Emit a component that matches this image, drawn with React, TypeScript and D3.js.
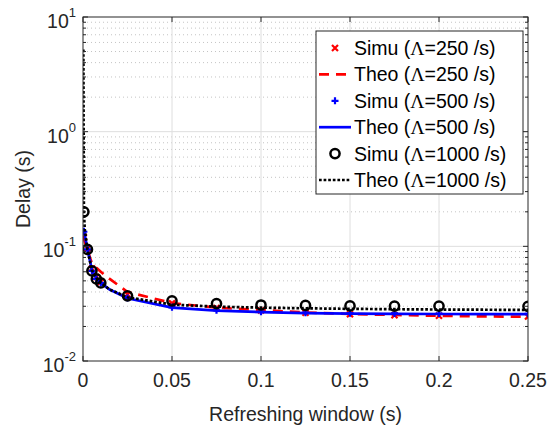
import React from "react";
import * as d3 from "d3";

const xSimu = [0.0005, 0.0025, 0.005, 0.0075, 0.01, 0.025, 0.05, 0.075, 0.1, 0.125, 0.15, 0.175, 0.2, 0.25];
const simu250 = [0.12, 0.096, 0.064, 0.054, 0.049, 0.038, 0.0318, 0.029, 0.0276, 0.0264, 0.0256, 0.0251, 0.0248, 0.0244];
const simu500 = [0.134, 0.094, 0.061, 0.052, 0.048, 0.0355, 0.0294, 0.0277, 0.0269, 0.0264, 0.0261, 0.026, 0.0259, 0.0258];
const simu1000 = [0.2, 0.094, 0.061, 0.052, 0.048, 0.037, 0.0334, 0.0316, 0.0308, 0.0305, 0.0302, 0.0301, 0.0301, 0.03];

const xTheo = [0.0002, 0.0005, 0.001, 0.0025, 0.005, 0.0075, 0.01, 0.015, 0.025, 0.05, 0.075, 0.1, 0.125, 0.15, 0.175, 0.2, 0.225, 0.25];
const theo250 = [0.122, 0.118, 0.11, 0.093, 0.071, 0.065, 0.06, 0.052, 0.04, 0.032, 0.0292, 0.0278, 0.0265, 0.0257, 0.0252, 0.0248, 0.0245, 0.0243];
const theo500 = [0.145, 0.14, 0.125, 0.095, 0.062, 0.053, 0.048, 0.042, 0.0352, 0.0292, 0.0275, 0.0267, 0.0262, 0.0259, 0.0258, 0.0257, 0.0256, 0.0256];
const theo1000 = [5.2, 0.2, 0.14, 0.094, 0.062, 0.053, 0.048, 0.042, 0.036, 0.031, 0.0298, 0.0292, 0.0288, 0.0285, 0.0283, 0.0281, 0.028, 0.0279];

const xTicks = [0, 0.05, 0.1, 0.15, 0.2, 0.25];
const xTickLabels = ["0", "0.05", "0.1", "0.15", "0.2", "0.25"];
const yDecades = [0.01, 0.1, 1, 10];
const yExponents = ["-2", "-1", "0", "1"];
const legendLabels = ["250", "250", "500", "500", "1000", "1000"];

const L = 83, R = 528, T = 17, B = 361;
const FONT = "'Liberation Sans', Arial, Helvetica, sans-serif";
const AX = "#262626";

export default function App() {
  const x = d3.scaleLinear().domain([0, 0.25]).range([L, R]);
  const y = d3.scaleLog().domain([0.01, 10]).range([B, T]);
  const line = d3.line<[number, number]>().x((d) => x(d[0])).y((d) => y(d[1]));
  const pts = (xs: number[], ys: number[]) => xs.map((v, i) => [v, ys[i]] as [number, number]);

  const minors: number[] = [];
  for (let e = -2; e < 1; e++) {
    for (let m = 2; m <= 9; m++) minors.push(m * Math.pow(10, e));
  }

  const xMark = (cx: number, cy: number, k: string) => (
    <path key={k} d={`M${cx - 3},${cy - 3}L${cx + 3},${cy + 3}M${cx - 3},${cy + 3}L${cx + 3},${cy - 3}`} stroke="#ff0000" strokeWidth={2.2} fill="none" />
  );
  const plusMark = (cx: number, cy: number, k: string) => (
    <path key={k} d={`M${cx - 3.5},${cy}L${cx + 3.5},${cy}M${cx},${cy - 3.5}L${cx},${cy + 3.5}`} stroke="#0000ff" strokeWidth={2.2} fill="none" />
  );
  const circMark = (cx: number, cy: number, k: string) => (
    <circle key={k} cx={cx} cy={cy} r={4.6} stroke="#000" strokeWidth={2.5} fill="none" />
  );

  const legendRow = (i: number) => 48 + 26.4 * i;

  return (
    <svg width={550} height={427} style={{ position: "absolute", left: 0, top: 0, background: "#fff" }} fontFamily={FONT}>
      <rect x={0} y={0} width={550} height={427} fill="#fff" />
      <defs>
        <clipPath id="plotclip">
          <rect x={L} y={T} width={R - L} height={B - T} />
        </clipPath>
      </defs>
      {/* minor grid */}
      {minors.map((v, i) => (
        <line key={"mg" + i} x1={L} x2={R} y1={y(v)} y2={y(v)} stroke="#c4c4c4" strokeWidth={1} strokeDasharray="1,3" />
      ))}
      {/* major grid */}
      {xTicks.slice(1, -1).map((v, i) => (
        <line key={"xg" + i} x1={x(v)} x2={x(v)} y1={T} y2={B} stroke="#dedede" strokeWidth={1} />
      ))}
      {yDecades.slice(1, -1).map((v, i) => (
        <line key={"yg" + i} x1={L} x2={R} y1={y(v)} y2={y(v)} stroke="#dedede" strokeWidth={1} />
      ))}

      {/* data */}
      <g clipPath="url(#plotclip)">
        {xSimu.map((v, i) => xMark(x(v), y(simu250[i]), "s250" + i))}
        <path d={line(pts(xTheo, theo250)) || ""} fill="none" stroke="#ff0000" strokeWidth={2.7} strokeDasharray="10,7" />
        {xSimu.map((v, i) => plusMark(x(v), y(simu500[i]), "s500" + i))}
        <path d={line(pts(xTheo, theo500)) || ""} fill="none" stroke="#0000ff" strokeWidth={2.7} />
        {xSimu.map((v, i) => circMark(x(v), y(simu1000[i]), "s1000" + i))}
        <path d={line(pts(xTheo, theo1000)) || ""} fill="none" stroke="#000" strokeWidth={2.7} strokeDasharray="2.7,1.9" />
      </g>

      {/* axes box */}
      <rect x={L} y={T} width={R - L} height={B - T} fill="none" stroke={AX} strokeWidth={1} />
      {xTicks.map((v, i) => (
        <g key={"xt" + i}>
          <line x1={x(v)} x2={x(v)} y1={B} y2={B - 5} stroke={AX} />
          <line x1={x(v)} x2={x(v)} y1={T} y2={T + 5} stroke={AX} />
          <text x={x(v)} y={387} textAnchor="middle" fontSize={19.5} fill={AX}>{xTickLabels[i]}</text>
        </g>
      ))}
      {yDecades.map((v, i) => (
        <g key={"yt" + i}>
          <line x1={L} x2={L + 5} y1={y(v)} y2={y(v)} stroke={AX} />
          <line x1={R} x2={R - 5} y1={y(v)} y2={y(v)} stroke={AX} />
          <text x={76} y={y(v) + 11} textAnchor="end" fontSize={19.5} fill={AX}>
            10<tspan fontSize={13} dy={-11}>{yExponents[i]}</tspan>
          </text>
        </g>
      ))}
      {minors.map((v, i) => (
        <g key={"ym" + i}>
          <line x1={L} x2={L + 3} y1={y(v)} y2={y(v)} stroke={AX} />
          <line x1={R} x2={R - 3} y1={y(v)} y2={y(v)} stroke={AX} />
        </g>
      ))}

      {/* axis labels */}
      <text x={(L + R) / 2} y={421} textAnchor="middle" fontSize={19.5} fill={AX}>Refreshing window (s)</text>
      <text transform={`translate(30,${(T + B) / 2}) rotate(-90)`} textAnchor="middle" fontSize={19.5} fill={AX}>Delay (s)</text>

      {/* legend */}
      <rect x={316} y={31} width={207} height={163} fill="#fff" stroke={AX} strokeWidth={1} />
      {legendLabels.map((lab, i) => {
        const cy = legendRow(i);
        const kind = i % 2 === 0 ? "Simu" : "Theo";
        let sample: React.ReactNode = null;
        if (i === 0) sample = xMark(335, cy, "l0");
        if (i === 1) sample = <line x1={319} x2={351} y1={cy} y2={cy} stroke="#ff0000" strokeWidth={2.7} strokeDasharray="10,7" />;
        if (i === 2) sample = plusMark(335, cy, "l2");
        if (i === 3) sample = <line x1={319} x2={351} y1={cy} y2={cy} stroke="#0000ff" strokeWidth={2.7} />;
        if (i === 4) sample = circMark(335, cy, "l4");
        if (i === 5) sample = <line x1={319} x2={351} y1={cy} y2={cy} stroke="#000" strokeWidth={2.7} strokeDasharray="2.7,1.9" />;
        return (
          <g key={"lg" + i}>
            {sample}
            <text x={354} y={cy + 7} fontSize={19.5} fill="#000">
              {kind} (<tspan fontFamily="'Liberation Serif', 'Times New Roman', serif">Λ</tspan>={lab} /s)
            </text>
          </g>
        );
      })}
    </svg>
  );
}
